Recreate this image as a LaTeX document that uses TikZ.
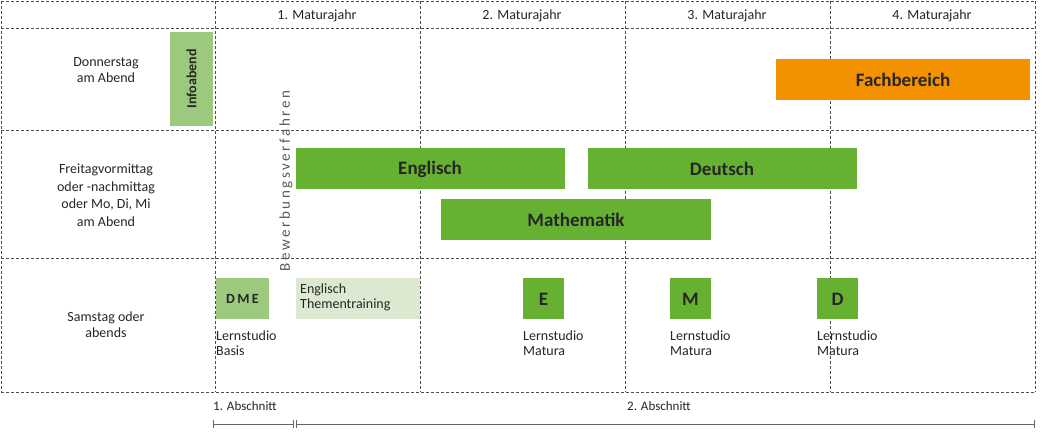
\documentclass[tikz,border=0pt]{standalone}
\usepackage{fontspec}
\setmainfont{Carlito}
\begin{document}
\begin{tikzpicture}[x=1pt,y=-1pt,
  grid/.style={densely dashed,line width=0.7pt,draw=black!70},
  bar/.style={anchor=north west,inner sep=0pt,font=\bfseries\fontsize{19}{20}\selectfont,text=black!85},
  lbl/.style={font=\fontsize{14}{16}\selectfont,text=black!85,align=center},
  small/.style={font=\fontsize{14}{15}\selectfont,text=black!85,align=left,anchor=north west,inner sep=0pt}]
\definecolor{g1}{HTML}{66B032}
\definecolor{g2}{HTML}{9DC97F}
\definecolor{g3}{HTML}{DCE9D0}
\definecolor{or}{HTML}{F39200}
\useasboundingbox (0,0) rectangle (1063,443);
% grid
\foreach \y in {1,28,130,258,392} \draw[grid] (1,\y) -- (1035,\y);
\foreach \x in {1,215,420,625,830,1035} \draw[grid] (\x,1) -- (\x,392);
% headers
\node[lbl] (h1) at (317,16) {1. Maturajahr};
\node[lbl] (h2) at (522,16) {2. Maturajahr};
\node[lbl] (h3) at (727,16) {3. Maturajahr};
\node[lbl] (h4) at (932,16) {4. Maturajahr};
% row labels
\node[lbl] (r1) at (106,70) {Donnerstag\\am Abend};
\node[lbl,font=\fontsize{14}{17.5}\selectfont] (r2) at (106,195) {Freitagvormittag\\oder -nachmittag\\oder Mo, Di, Mi\\am Abend};
\node[lbl] (r3) at (106,325) {Samstag oder\\abends};
% boxes
\fill[g2] (170,32) rectangle (213,126);
\node[rotate=90,font=\bfseries\fontsize{14}{15}\selectfont,text=black!85] (info) at (191.5,79) {Infoabend};
\node[rotate=90,font=\fontsize{15}{16}\selectfont,text=black!65] (bew) at (286,181) {B\,e\,w\,e\,r\,b\,u\,n\,g\,s\,v\,e\,r\,f\,a\,h\,r\,e\,n};
\fill[or] (776,59) rectangle (1030,100); \node[font=\bfseries\fontsize{19}{20}\selectfont,text=black!85] (fb) at (903,80) {Fachbereich};
\fill[g1] (296,148) rectangle (565,189); \node[font=\bfseries\fontsize{19}{20}\selectfont,text=black!85] (en) at (430,169) {Englisch};
\fill[g1] (588,148) rectangle (857,189); \node[font=\bfseries\fontsize{19}{20}\selectfont,text=black!85] (de) at (722,169) {Deutsch};
\fill[g1] (441,199) rectangle (711,240); \node[font=\bfseries\fontsize{19}{20}\selectfont,text=black!85] (ma) at (576,220) {Mathematik};
\fill[g2] (216,278) rectangle (269,319); \node[font=\bfseries\fontsize{14}{15}\selectfont,text=black!85] (dme) at (242.5,299) {D\,M\,E};
\fill[g3] (296,278) rectangle (420,319); \node[small] (et) at (300,284) {Englisch\\Thementraining};
\fill[g1] (523,278) rectangle (564,319); \node[font=\bfseries\fontsize{19}{20}\selectfont,text=black!85] (e) at (543.5,299) {E};
\fill[g1] (670,278) rectangle (711,319); \node[font=\bfseries\fontsize{19}{20}\selectfont,text=black!85] (m) at (690.5,299) {M};
\fill[g1] (817,278) rectangle (858,319); \node[font=\bfseries\fontsize{19}{20}\selectfont,text=black!85] (d) at (837.5,299) {D};
\node[small] (lb) at (216,331) {Lernstudio\\Basis};
\node[small] (l1) at (523,331) {Lernstudio\\Matura};
\node[small] (l2) at (670,331) {Lernstudio\\Matura};
\node[small] (l3) at (817,331) {Lernstudio\\Matura};
% sections
\node[small,font=\fontsize{13}{14}\selectfont] (a1) at (213,401) {1. Abschnitt};
\node[small,font=\fontsize{13}{14}\selectfont] (a2) at (627,401) {2. Abschnitt};
\coordinate (s0) at (213,424); \coordinate (s1) at (294,424);
\coordinate (s2) at (296,424); \coordinate (s3) at (1035,424);
\draw[black!60,line width=0.8pt,|-|] (s0) -- (s1);
\draw[black!60,line width=0.8pt,|-|] (s2) -- (s3);
\end{tikzpicture}
\end{document}
